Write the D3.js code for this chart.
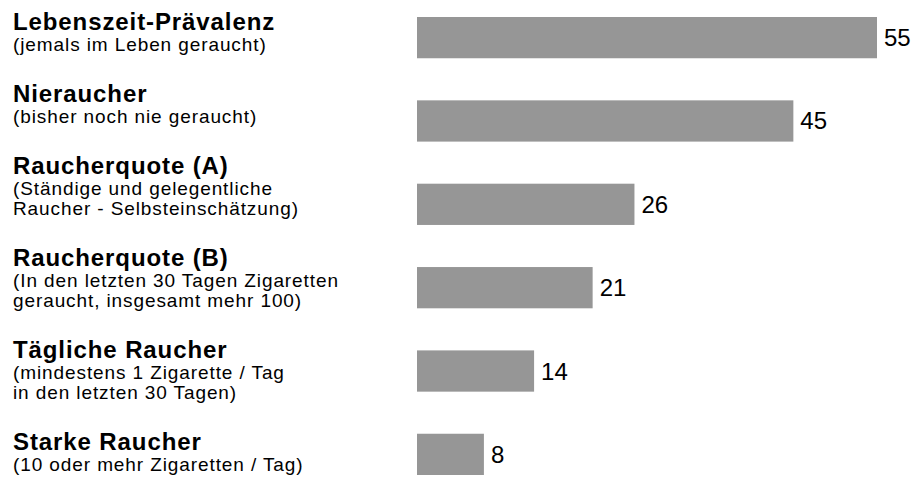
<!DOCTYPE html>
<html>
<head>
<meta charset="utf-8">
<script src="https://cdn.jsdelivr.net/npm/d3@7"></script>
<style>
  body { margin: 0; background: #fff; }
  text { font-family: "Liberation Sans", Arial, sans-serif; fill: #000; }
</style>
</head>
<body>
<div id="chart"></div>
<script>
// 1: DATA
const titles = [
    "Lebenszeit-Prävalenz",
    "Nieraucher",
    "Raucherquote (A)",
    "Raucherquote (B)",
    "Tägliche Raucher",
    "Starke Raucher"
];
const subtitles = [
    ["(jemals im Leben geraucht)"],
    ["(bisher noch nie geraucht)"],
    ["(Ständige und gelegentliche", "Raucher - Selbsteinschätzung)"],
    ["(In den letzten 30 Tagen Zigaretten", "geraucht, insgesamt mehr 100)"],
    ["(mindestens 1 Zigarette / Tag", "in den letzten 30 Tagen)"],
    ["(10 oder mehr Zigaretten / Tag)"]
];
const values = [55, 45, 26, 21, 14, 8];

// 2: LAYOUT
const width = 914;
const height = 477;
const barLeft = 417, barRight = 877;
const barTop = 17, barBottom = 475;

const svg = d3.select("#chart")
    .append("svg")
    .attr("width", width)
    .attr("height", height);

// 3: SCALES
const xScale = d3.scaleLinear()
    .domain([0, d3.max(values)])
    .range([barLeft, barRight]);

const yScale = d3.scaleBand()
    .domain(titles)
    .range([barTop, barBottom])
    .paddingInner(0.505)
    .paddingOuter(0);

// 4: BARS
svg.selectAll("rect.bar")
    .data(values)
    .enter()
    .append("rect")
    .attr("class", "bar")
    .attr("x", xScale(0))
    .attr("y", (d, i) => yScale(titles[i]))
    .attr("width", d => xScale(d) - xScale(0))
    .attr("height", yScale.bandwidth())
    .attr("fill", "#969696");

// 5: VALUE LABELS
svg.selectAll("text.value")
    .data(values)
    .enter()
    .append("text")
    .attr("class", "value")
    .attr("x", d => xScale(d) + 7)
    .attr("y", (d, i) => yScale(titles[i]) + yScale.bandwidth() / 2)
    .attr("dominant-baseline", "central")
    .style("font-size", "24px")
    .text(d => d);

// 6: CATEGORY LABELS (stacked blocks: bold title + small description lines)
const titleToSub = 21, subLine = 20, blockGap = 51;
let baseline = 30;
titles.forEach((t, i) => {
    svg.append("text")
        .attr("x", 13)
        .attr("y", baseline)
        .style("font-size", "24px")
        .style("font-weight", "bold")
        .style("letter-spacing", "0.9px")
        .text(t);

    let y = baseline + titleToSub;
    subtitles[i].forEach((line, j) => {
        if (j > 0) y += subLine;
        svg.append("text")
            .attr("x", 13)
            .attr("y", y)
            .style("font-size", "19px")
            .style("letter-spacing", "0.9px")
            .text(line);
    });
    baseline = y + blockGap;
});
</script>
</body>
</html>
